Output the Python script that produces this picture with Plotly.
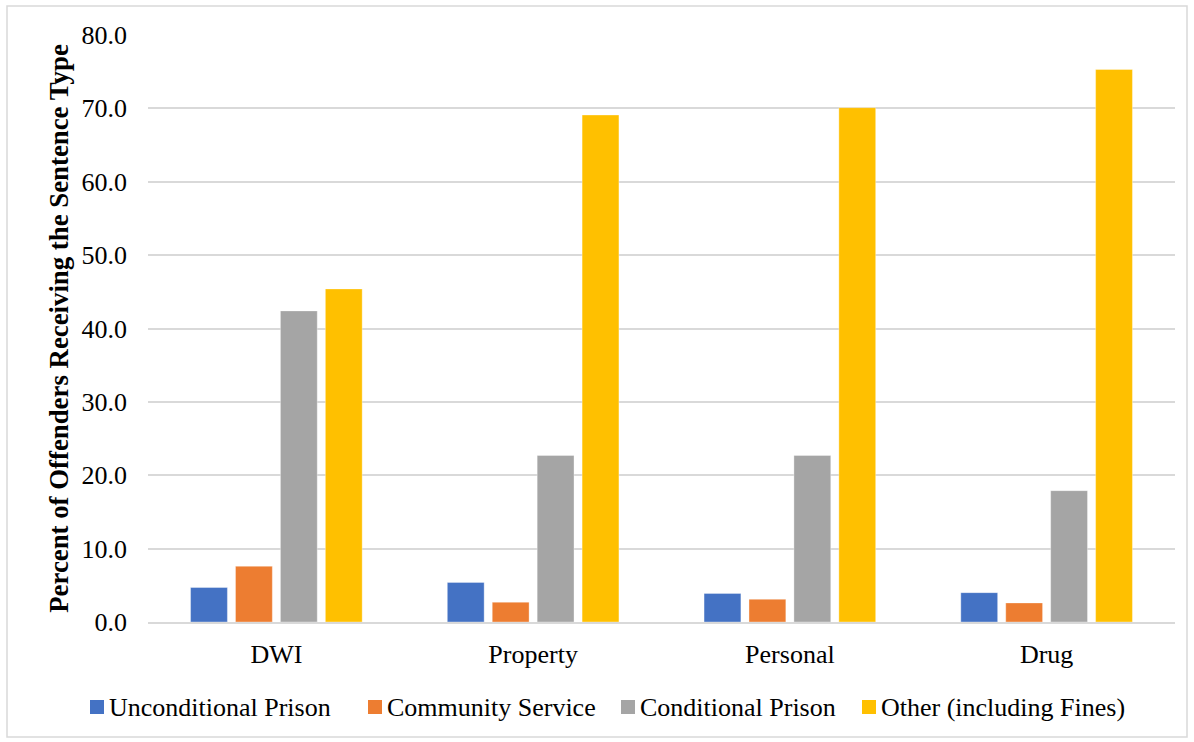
import plotly.graph_objects as go

categories = ["DWI", "Property", "Personal", "Drug"]
unconditional_prison = [4.7, 5.4, 3.9, 4.0]
community_service = [7.6, 2.7, 3.1, 2.6]
conditional_prison = [42.4, 22.7, 22.7, 17.9]
other_incl_fines = [45.4, 69.1, 70.1, 75.3]

series = [
    ("Unconditional Prison", unconditional_prison, "#4472C4"),
    ("Community Service", community_service, "#ED7D31"),
    ("Conditional Prison", conditional_prison, "#A5A5A5"),
    ("Other (including Fines)", other_incl_fines, "#FFC000"),
]

font_family = "Liberation Serif, Times New Roman, serif"
margin_l, margin_r, margin_t, margin_b = 148, 19, 35, 120
fig_w, fig_h = 1194, 742
plot_w = fig_w - margin_l - margin_r
plot_h = fig_h - margin_t - margin_b


def px_x(px):
    return (px - margin_l) / plot_w


def px_y(py):
    return (fig_h - margin_b - py) / plot_h


fig = go.Figure()
for name, vals, color in series:
    fig.add_trace(go.Bar(
        x=categories, y=vals, name=name, showlegend=False,
        marker=dict(color=color, line=dict(color="rgba(255,255,255,0.35)", width=1)),
    ))

# legend row under the axis: small square swatch followed by the series name
legend_left = [90, 368, 621, 862]
legend_y = 707
swatch = 14
shapes = [dict(
    type="rect", xref="paper", yref="paper",
    x0=px_x(7), x1=px_x(1187), y0=px_y(737), y1=px_y(6),
    line=dict(color="#D9D9D9", width=1.5), layer="below",
)]
annotations = []
for (name, _, color), lx in zip(series, legend_left):
    shapes.append(dict(
        type="rect", xref="paper", yref="paper",
        x0=px_x(lx), x1=px_x(lx + swatch),
        y0=px_y(legend_y + swatch / 2), y1=px_y(legend_y - swatch / 2),
        fillcolor=color, line=dict(width=0),
    ))
    annotations.append(dict(
        xref="paper", yref="paper", x=px_x(lx + swatch + 3), y=px_y(legend_y),
        xanchor="left", yanchor="middle", showarrow=False,
        text=name, font=dict(size=26, family=font_family, color="#000000"),
    ))

fig.update_layout(
    width=fig_w, height=fig_h,
    barmode="group",
    bargap=0.30, bargroupgap=0.18,
    paper_bgcolor="white", plot_bgcolor="white",
    margin=dict(l=margin_l, r=margin_r, t=margin_t, b=margin_b),
    font=dict(family=font_family, size=26, color="#000000"),
    xaxis=dict(
        showgrid=False, showline=True, linecolor="#D9D9D9", linewidth=1.5,
        ticks="", tickfont=dict(size=26), ticklabelstandoff=8,
    ),
    yaxis=dict(
        range=[0, 80], dtick=10, tickformat=".1f",
        showgrid=True, gridcolor="#D9D9D9", gridwidth=1.5,
        zeroline=False, showline=False, ticks="", ticklen=0,
        tickfont=dict(size=26), ticklabelstandoff=20,
        title=dict(
            text="<b>Percent of Offenders Receiving the Sentence Type</b>",
            font=dict(size=26.8), standoff=5,
        ),
    ),
    shapes=shapes,
    annotations=annotations,
)

fig.write_html("out.html")
